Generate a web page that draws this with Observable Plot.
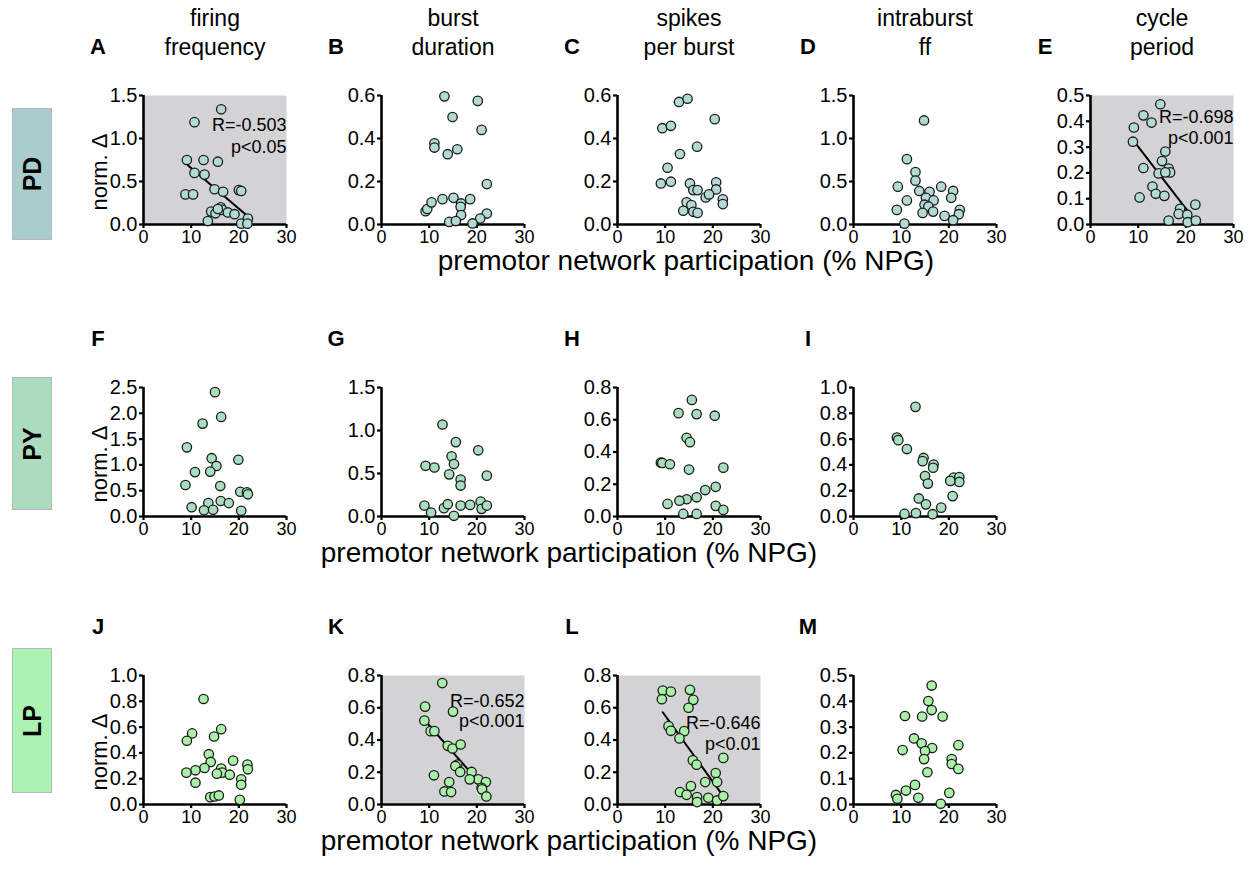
<!DOCTYPE html>
<html><head><meta charset="utf-8">
<script src="https://cdn.jsdelivr.net/npm/d3@7"></script>
<script src="https://cdn.jsdelivr.net/npm/@observablehq/plot@0.6"></script>
<style>
body{margin:0;background:#fff;font-family:"Liberation Sans",Arial,sans-serif;}
#root{position:relative;width:1254px;height:871px;overflow:hidden;background:#fff;}
.t{position:absolute;white-space:nowrap;transform:translate(-50%,-50%);color:#000;line-height:1;}
.rot{transform:translate(-50%,-50%) rotate(-90deg);}
.box{position:absolute;box-sizing:border-box;border:1px solid #b8b8b8;}
.panel{position:absolute;}
</style></head><body><div id="root"></div><script>
// ---------- labels ----------
const colHeaders = [["firing","frequency"],["burst","duration"],["spikes","per burst"],["intraburst","ff"],["cycle","period"]];
const rowNames = ["PD","PY","LP"];
const rowBoxFill = ["#a9cdcc","#acdcc0","#acf2b2"];
const dotFill = ["#b3d9d5","#a9ddc0","#abf0a8"];
const yLabel = "norm. Δ";
const xLabel = "premotor network participation (% NPG)";
const xTicks = [0,10,20,30];
const ticks15 = [0,0.5,1.0,1.5];
const ticks06 = [0,0.2,0.4,0.6];
const ticks05 = [0,0.1,0.2,0.3,0.4,0.5];
const ticks25 = [0,0.5,1.0,1.5,2.0,2.5];
const ticks08 = [0,0.2,0.4,0.6,0.8];
const ticks10 = [0,0.2,0.4,0.6,0.8,1.0];

// ---------- data [x (% NPG), y (norm. delta)] ----------
const dataA = [[16.3,1.34],[10.7,1.19],[9.1,0.75],[12.6,0.75],[15.6,0.73],[10.7,0.60],[12.8,0.58],[8.8,0.35],[10.4,0.35],[14.9,0.41],[16.7,0.38],[20.0,0.40],[20.5,0.39],[14.2,0.15],[15.1,0.13],[16.2,0.20],[16.5,0.17],[15.6,0.18],[17.7,0.14],[19.1,0.12],[13.5,0.04],[20.5,0.01],[21.9,0.07],[21.8,0.01]];
const dataB = [[13.2,0.596],[20.2,0.575],[14.9,0.50],[21.0,0.44],[11.1,0.378],[11.1,0.358],[13.9,0.327],[15.9,0.35],[22.1,0.188],[9.25,0.062],[9.6,0.072],[10.5,0.103],[12.8,0.118],[15.1,0.124],[16.7,0.098],[16.6,0.082],[18.6,0.118],[16.7,0.044],[22.1,0.051],[20.7,0.028],[14.2,0.012],[15.6,0.016],[19.1,0.005]];
const dataC = [[12.9,0.57],[14.7,0.585],[20.4,0.49],[9.4,0.448],[11.2,0.459],[16.7,0.362],[13.1,0.328],[10.5,0.264],[9.1,0.191],[11.2,0.199],[15.2,0.191],[15.9,0.16],[16.8,0.16],[20.7,0.196],[20.7,0.163],[18.5,0.126],[19.2,0.14],[22.1,0.117],[22.1,0.095],[14.5,0.103],[15.5,0.09],[13.8,0.064],[15.9,0.059],[16.8,0.054]];
const dataD = [[14.8,1.21],[11.2,0.76],[13.0,0.61],[13.0,0.51],[9.3,0.44],[18.4,0.44],[13.8,0.39],[15.95,0.38],[20.9,0.39],[15.2,0.31],[20.5,0.31],[11.2,0.28],[16.8,0.28],[14.9,0.23],[15.7,0.21],[9.1,0.17],[16.7,0.15],[14.5,0.135],[22.3,0.17],[22.1,0.12],[19.1,0.10],[20.9,0.05],[10.7,0.01]];
const dataE = [[14.65,0.466],[11.1,0.423],[12.8,0.395],[9.1,0.376],[8.9,0.321],[15.7,0.283],[15.0,0.246],[16.4,0.217],[16.7,0.202],[11.1,0.219],[14.3,0.198],[15.7,0.202],[13.0,0.147],[13.7,0.119],[15.5,0.111],[10.3,0.105],[18.8,0.061],[18.5,0.041],[20.3,0.038],[22.0,0.077],[16.4,0.015],[20.4,0.009],[22.1,0.015]];
const dataF = [[15.0,2.41],[16.3,1.93],[12.4,1.80],[9.1,1.34],[14.3,1.13],[19.9,1.10],[15.3,0.98],[10.8,0.86],[14.0,0.87],[8.8,0.61],[16.1,0.59],[20.3,0.48],[21.7,0.47],[21.9,0.43],[16.2,0.30],[17.9,0.26],[13.6,0.26],[10.1,0.18],[12.7,0.12],[14.6,0.13],[20.5,0.11]];
const dataG = [[12.8,1.07],[15.6,0.865],[20.3,0.77],[14.7,0.70],[15.2,0.61],[9.25,0.59],[11.1,0.57],[14.2,0.49],[22.1,0.475],[16.6,0.43],[16.6,0.36],[9.0,0.127],[10.4,0.046],[13.1,0.097],[13.9,0.143],[16.6,0.127],[18.6,0.135],[20.8,0.174],[21.0,0.089],[22.1,0.127],[15.2,0.008]];
const dataH = [[15.6,0.723],[12.8,0.641],[16.6,0.635],[20.4,0.625],[14.5,0.488],[15.2,0.461],[9.1,0.334],[9.4,0.332],[11.0,0.324],[15.0,0.291],[22.2,0.303],[20.6,0.184],[18.4,0.164],[16.6,0.119],[14.5,0.107],[13.0,0.098],[10.5,0.078],[20.6,0.066],[22.2,0.041],[13.8,0.016],[16.6,0.016]];
const dataI = [[13.0,0.85],[9.1,0.612],[9.4,0.592],[11.2,0.523],[14.7,0.454],[14.5,0.429],[16.8,0.403],[16.7,0.378],[15.0,0.314],[15.6,0.255],[20.5,0.281],[21.0,0.301],[22.2,0.306],[22.2,0.268],[20.3,0.276],[20.8,0.158],[13.7,0.14],[15.2,0.094],[18.4,0.069],[13.1,0.026],[10.7,0.020],[16.6,0.018]];
const dataJ = [[12.6,0.818],[16.3,0.584],[10.2,0.551],[14.8,0.527],[9.1,0.494],[13.7,0.39],[14.1,0.33],[18.8,0.34],[21.8,0.309],[21.9,0.273],[12.8,0.283],[10.9,0.265],[9.0,0.247],[16.3,0.278],[16.5,0.247],[15.4,0.239],[18.1,0.231],[20.5,0.195],[20.5,0.153],[10.9,0.169],[14.0,0.057],[14.9,0.062],[15.8,0.07],[20.2,0.036]];
const dataK = [[12.75,0.753],[9.15,0.607],[15.0,0.576],[9.0,0.52],[10.3,0.455],[11.1,0.455],[13.9,0.364],[14.9,0.347],[16.6,0.372],[15.9,0.247],[15.5,0.239],[16.5,0.202],[18.9,0.202],[20.3,0.156],[21.9,0.139],[21.0,0.104],[21.1,0.094],[18.5,0.156],[11.0,0.181],[14.2,0.139],[13.2,0.081],[14.6,0.077],[22.0,0.05]];
const dataL = [[9.5,0.707],[9.3,0.653],[11.2,0.70],[15.2,0.711],[15.9,0.649],[14.9,0.60],[10.7,0.486],[11.2,0.457],[14.0,0.455],[13.0,0.41],[15.8,0.274],[16.6,0.247],[22.2,0.289],[20.6,0.195],[18.4,0.139],[20.9,0.139],[15.4,0.114],[13.1,0.077],[14.5,0.06],[16.7,0.046],[16.7,0.015],[19.05,0.042],[20.9,0.025],[22.2,0.052]];
const dataM = [[16.4,0.461],[15.7,0.401],[16.4,0.366],[10.8,0.343],[14.4,0.341],[18.7,0.341],[12.7,0.256],[14.3,0.237],[22.0,0.23],[16.5,0.219],[10.3,0.211],[15.0,0.207],[14.8,0.176],[20.6,0.176],[20.6,0.157],[22.0,0.138],[15.5,0.125],[12.9,0.076],[11.0,0.054],[20.1,0.045],[8.9,0.037],[9.2,0.022],[13.6,0.026],[18.3,0.003]];

// regression lines (endpoints)
const fitA = [[9.3,0.69],[22.0,0.09]];
const fitE = [[8.9,0.328],[20.7,0.045]];
const fitK = [[9.0,0.524],[21.7,0.098]];
const fitL = [[9.5,0.572],[21.8,0.067]];
const statsA = ["R=-0.503","p<0.05"];
const statsE = ["R=-0.698","p<0.001"];
const statsK = ["R=-0.652","p<0.001"];
const statsL = ["R=-0.646","p<0.01"];

// ---------- layout ----------
const colAxisX = [143, 381, 617, 853, 1090];
const rowTopY = [95, 387, 675];
const PW = 143, PH = 129;
const ML = 52, MR = 14, MT = 12, MB = 34;

const panels = [
  {id:"A",row:0,col:0,data:dataA,ticks:ticks15,gray:true,fit:fitA,stats:statsA,statY:[1.15,0.90]},
  {id:"B",row:0,col:1,data:dataB,ticks:ticks06},
  {id:"C",row:0,col:2,data:dataC,ticks:ticks06},
  {id:"D",row:0,col:3,data:dataD,ticks:ticks15},
  {id:"E",row:0,col:4,data:dataE,ticks:ticks05,gray:true,fit:fitE,stats:statsE,statY:[0.414,0.334]},
  {id:"F",row:1,col:0,data:dataF,ticks:ticks25},
  {id:"G",row:1,col:1,data:dataG,ticks:ticks15},
  {id:"H",row:1,col:2,data:dataH,ticks:ticks08},
  {id:"I",row:1,col:3,data:dataI,ticks:ticks10},
  {id:"J",row:2,col:0,data:dataJ,ticks:ticks10},
  {id:"K",row:2,col:1,data:dataK,ticks:ticks08,gray:true,fit:fitK,stats:statsK,statY:[0.638,0.514]},
  {id:"L",row:2,col:2,data:dataL,ticks:ticks08,gray:true,fit:fitL,stats:statsL,statY:[0.503,0.372]},
  {id:"M",row:2,col:3,data:dataM,ticks:ticks05}
];

const root = document.getElementById("root");
function addText(txt, x, y, css, cls="t") {
  const d = document.createElement("div");
  d.className = cls; d.textContent = txt;
  d.style.left = x + "px"; d.style.top = y + "px";
  Object.assign(d.style, css);
  root.appendChild(d);
  return d;
}

const FONT = '"Liberation Sans", Arial, Helvetica, sans-serif';
const fmt = d3.format(".1f");

for (const p of panels) {
  const yMax = p.ticks[p.ticks.length-1];
  const marks = [];
  if (p.gray) marks.push(Plot.frame({fill:"#d3d3d5", stroke:null}));
  marks.push(Plot.axisY({ticks:p.ticks, tickFormat:fmt, tickSize:4, tickPadding:2, strokeWidth:2.2, fontSize:20, label:null}));
  marks.push(Plot.axisX({ticks:xTicks, tickSize:4, tickPadding:2, strokeWidth:2.2, fontSize:18, label:null}));
  marks.push(Plot.ruleX([0], {stroke:"#000", strokeWidth:2.6}));
  marks.push(Plot.ruleY([0], {stroke:"#000", strokeWidth:2.6}));
  if (p.fit) marks.push(Plot.line(p.fit, {x:d=>d[0], y:d=>d[1], stroke:"#000", strokeWidth:2}));
  marks.push(Plot.dot(p.data, {x:d=>d[0], y:d=>d[1], r:4.7, fill:dotFill[p.row], stroke:"#1a1a1a", strokeWidth:1.3}));
  if (p.stats) {
    marks.push(Plot.text(p.stats.map((s,i)=>({s, y:p.statY[i]})), {x:30, y:"y", text:"s", textAnchor:"end", fontSize:18, fill:"#000"}));
  }
  const svg = Plot.plot({
    width: ML+PW+MR, height: MT+PH+MB,
    marginLeft: ML, marginRight: MR, marginTop: MT, marginBottom: MB,
    x: {domain:[0,30]}, y: {domain:[0,yMax]},
    style: {fontFamily: FONT, fontSize:"19px", overflow:"visible", background:"none", color:"#000"},
    marks
  });
  const wrap = document.createElement("div");
  wrap.className = "panel";
  wrap.style.left = (colAxisX[p.col]-ML) + "px";
  wrap.style.top = (rowTopY[p.row]-MT) + "px";
  wrap.appendChild(svg);
  root.appendChild(wrap);
  // panel letter
  addText(p.id, colAxisX[p.col]-45, rowTopY[p.row]-48, {fontSize:"22px", fontWeight:"bold", fontFamily:FONT});
}

// column headers
colHeaders.forEach((h,i)=>{
  const cx = colAxisX[i] + 72;
  addText(h[0], cx, 18, {fontSize:"23px", fontFamily:FONT});
  addText(h[1], cx, 47, {fontSize:"23px", fontFamily:FONT});
});

// row boxes + y labels
const boxTop = [108, 377, 648], boxH = [132, 133, 145];
rowNames.forEach((n,i)=>{
  const b = document.createElement("div");
  b.className = "box";
  Object.assign(b.style, {left:"12px", top:boxTop[i]+"px", width:"40px", height:boxH[i]+"px", background:rowBoxFill[i]});
  root.appendChild(b);
  addText(n, 32, boxTop[i]+boxH[i]/2, {fontSize:"25px", fontWeight:"bold", fontFamily:FONT}, "t rot");
  addText(yLabel, 100, rowTopY[i]+PH/2+12, {fontSize:"22px", fontFamily:FONT}, "t rot");
});

// x-axis titles
addText(xLabel, 686, 261, {fontSize:"28px", fontFamily:FONT});
addText(xLabel, 569, 553, {fontSize:"28px", fontFamily:FONT});
addText(xLabel, 569, 841, {fontSize:"28px", fontFamily:FONT});
</script></body></html>
